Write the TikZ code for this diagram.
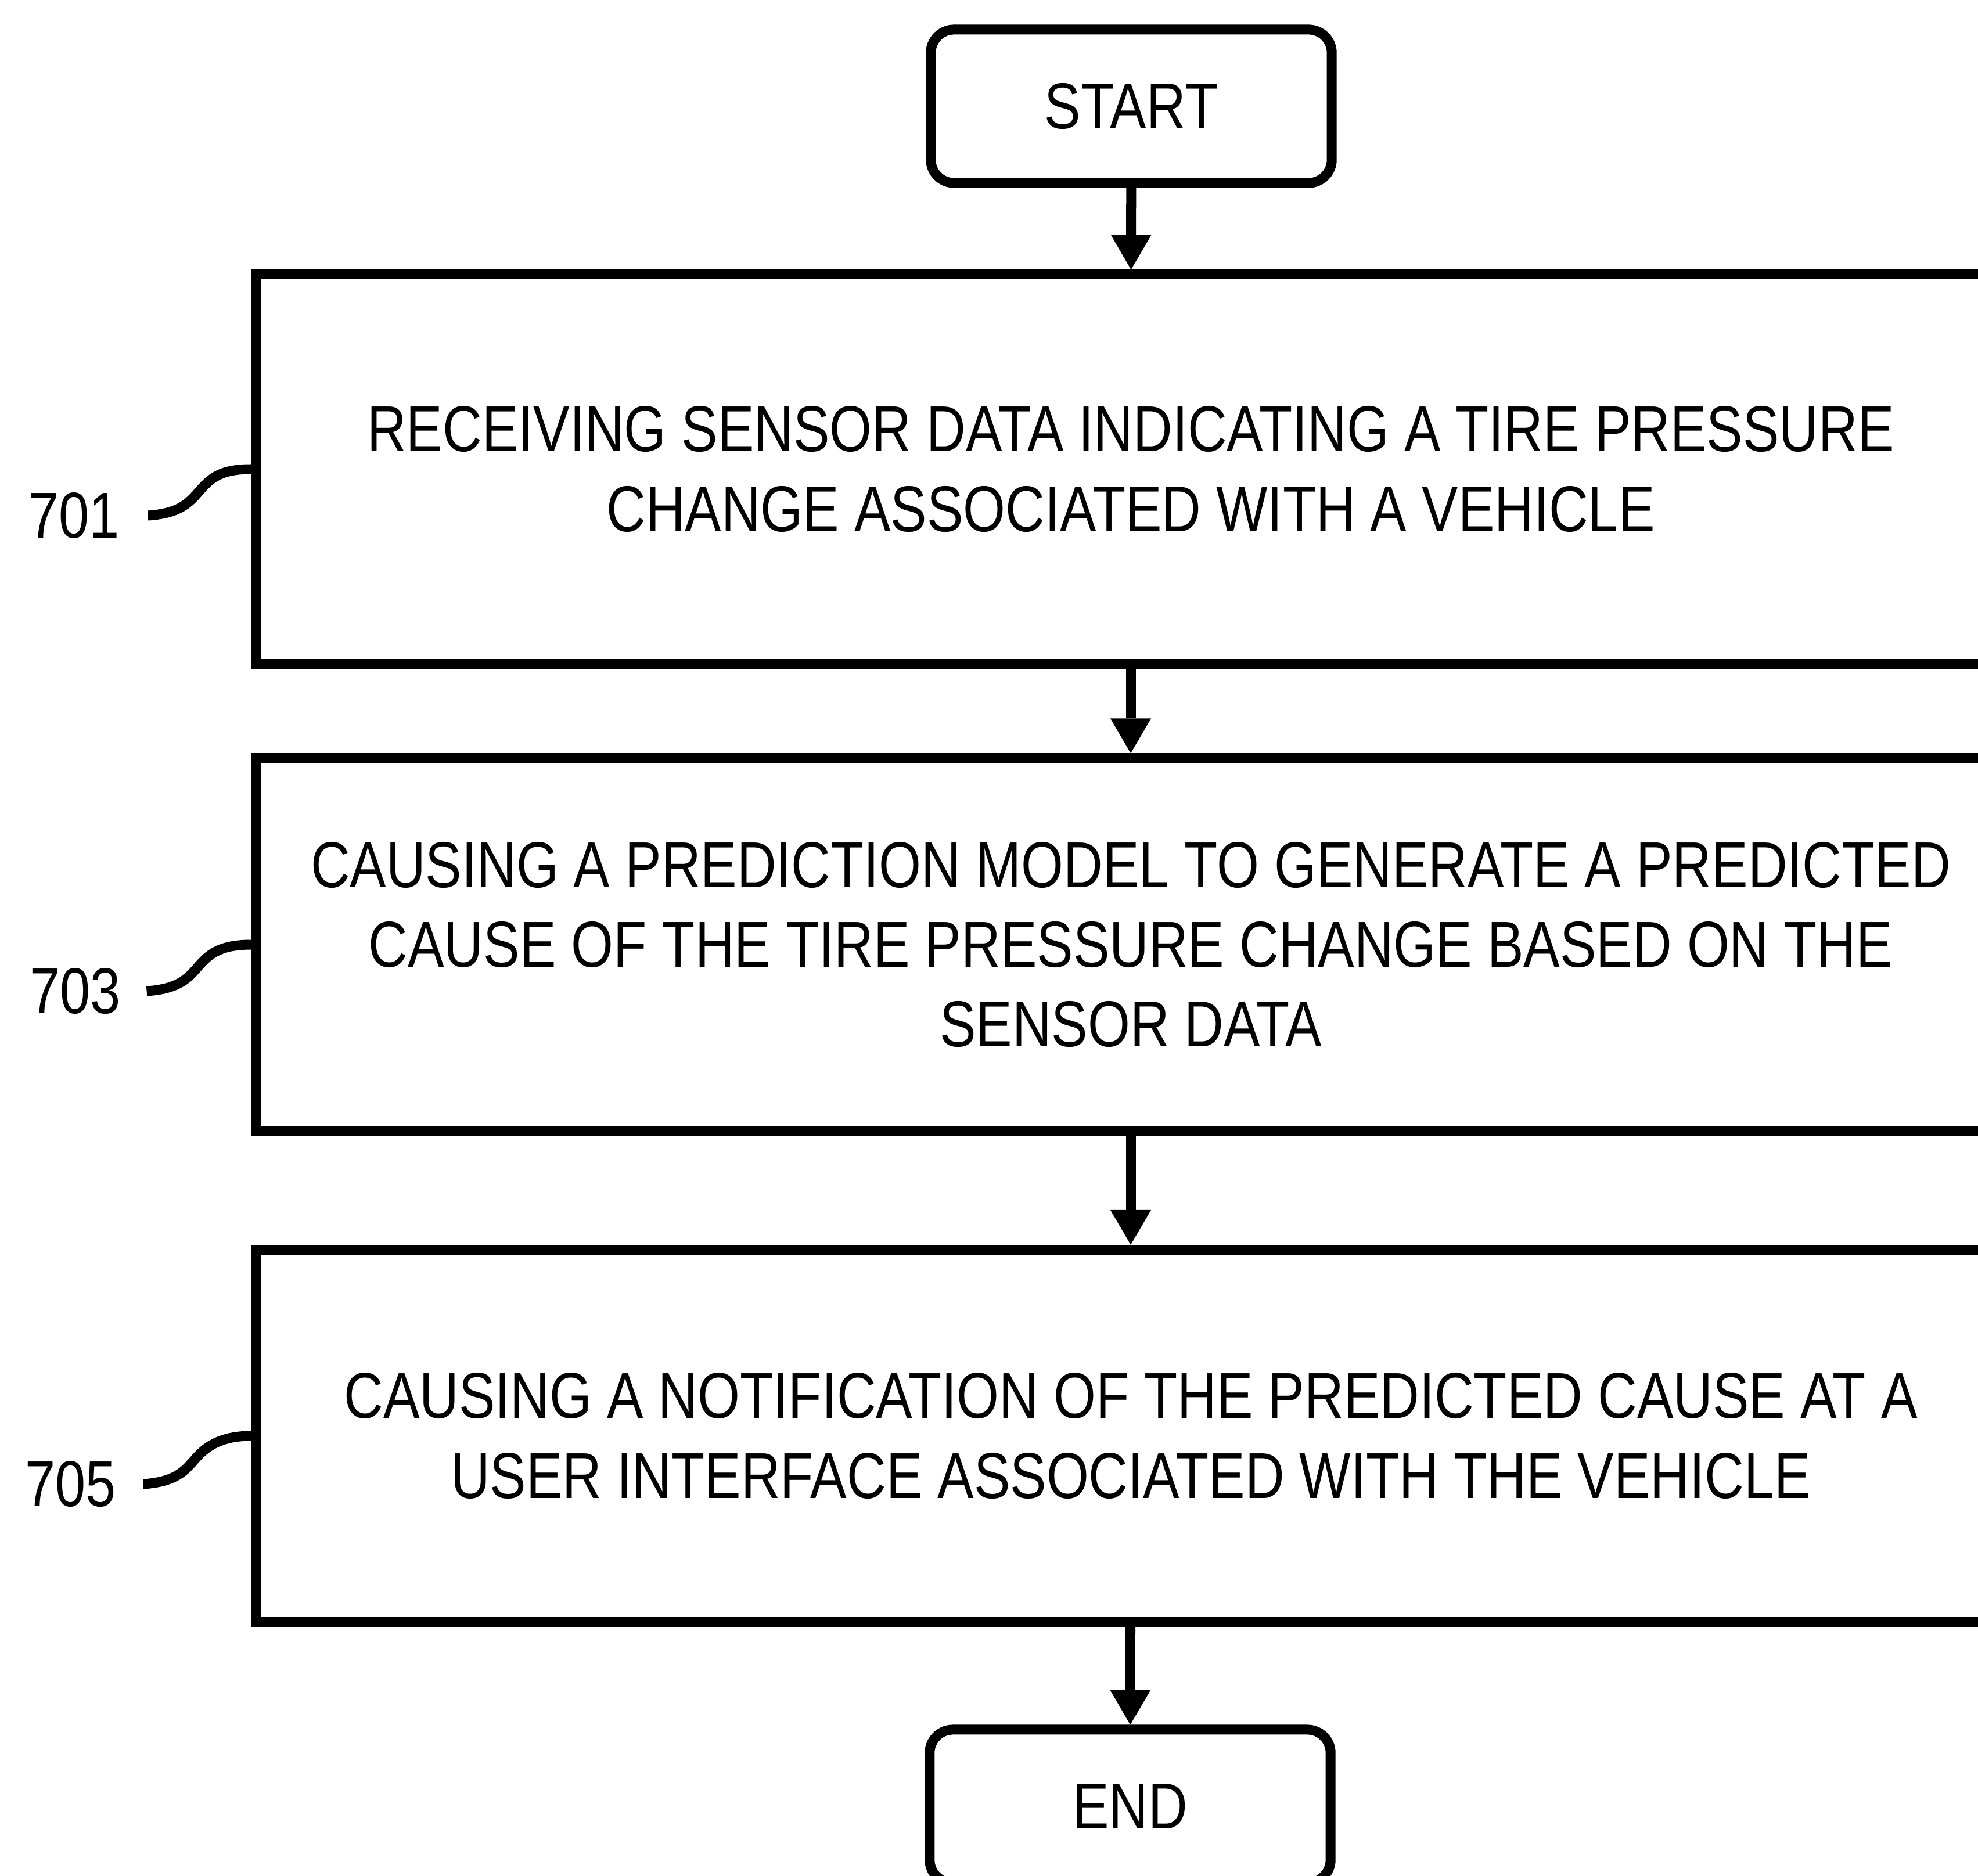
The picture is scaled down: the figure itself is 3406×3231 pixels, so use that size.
\documentclass[tikz,border=0pt]{standalone}
\usepackage{fontspec}
\setmainfont{Liberation Sans}[FakeStretch=0.838]
\usetikzlibrary{arrows.meta, positioning, calc}

\tikzset{
  stepbox/.style={draw, line width=0.17cm, minimum width=30.1cm, align=center, inner sep=0pt},
  termbox/.style={draw, line width=0.17cm, rounded corners=0.4cm, minimum width=6.9cm, minimum height=2.64cm, inner sep=0pt},
  flow/.style={line width=0.17cm, -{Triangle[length=0.6cm, width=0.7cm, line width=0pt]}},
  leader/.style={line width=0.17cm},
  reflbl/.style={inner sep=0pt, anchor=east}
}

\begin{document}
\begin{tikzpicture}[x=0.01cm, y=-0.01cm, font=\fontsize{31.8}{39}\selectfont]
                \useasboundingbox (0,0) rectangle (3406,3231);
                \clip (0,0) rectangle (3406,3231);

                \node[termbox] (start) at (1948,183) {START};

                % Process steps
                \node[stepbox, minimum height=6.7cm] (b701) at (1947,808)
                    {RECEIVING SENSOR DATA INDICATING A TIRE PRESSURE\\CHANGE ASSOCIATED WITH A VEHICLE};
                \node[stepbox, minimum height=6.42cm] (b703) at (1947,1627)
                    {CAUSING A PREDICTION MODEL TO GENERATE A PREDICTED\\CAUSE OF THE TIRE PRESSURE CHANGE BASED ON THE\\SENSOR DATA};
                \node[stepbox, minimum height=6.41cm] (b705) at (1947,2473)
                    {CAUSING A NOTIFICATION OF THE PREDICTED CAUSE AT A\\USER INTERFACE ASSOCIATED WITH THE VEHICLE};

                \node[termbox] (end) at (1946,3111) {END};

                \draw[flow] (start) -- (b701);
                \draw[flow] (b701) -- (b703);
                \draw[flow] (b703) -- (b705);
                \draw[flow] (b705) -- (end);

                % Reference numerals
                \coordinate (s701) at ($(b701.west)+(-178,80)$);
                \coordinate (s703) at ($(b703.west)+(-180,80)$);
                \coordinate (s705) at ($(b705.west)+(-186,83)$);
                \node[reflbl] (l701) at ($(s701)+(-48,0)$) {701};
                \node[reflbl] (l703) at ($(s703)+(-44,0)$) {703};
                \node[reflbl] (l705) at ($(s705)+(-46,0)$) {705};

                \draw[leader] (s701) .. controls +(60,-4) and +(-18,20) .. ++(92,-46)
                    .. controls +(18,-20) and +(-50,0) .. (b701.west);
                \draw[leader] (s703) .. controls +(60,-4) and +(-18,20) .. ++(92,-46)
                    .. controls +(18,-20) and +(-50,0) .. (b703.west);
                \draw[leader] (s705) .. controls +(60,-4) and +(-18,20) .. ++(92,-46)
                    .. controls +(18,-20) and +(-50,0) .. (b705.west);
            \end{tikzpicture}
\end{document}
